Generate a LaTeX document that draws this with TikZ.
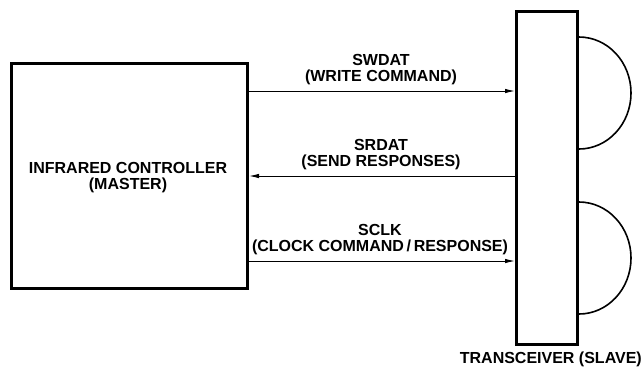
\documentclass[tikz,border=0pt]{standalone}
\usepackage{fontspec}
\setmainfont{Liberation Sans Bold}
\newcommand{\lblfont}{\fontsize{16}{16}\selectfont}
\usetikzlibrary{arrows.meta}
\begin{document}
\begin{tikzpicture}[x=1pt,y=-1pt,
  blk/.style={draw,line width=3pt},
  sig/.style={line width=1pt,-{Latex[length=10pt,width=4.5pt]}},
  lbl/.style={font=\lblfont,align=center,inner sep=0pt},
  dome/.style={line width=1.6pt}]
\useasboundingbox (0,0) rectangle (644,368);
\node[blk,minimum width=236pt,minimum height=225pt,anchor=north west,inner sep=0pt] (ctrl) at (10,62) {};
\node[lbl,anchor=base] (ct) at (128,189) {INFRARED CONTROLLER\\(MASTER)};
\node[blk,minimum width=61pt,minimum height=333pt,anchor=north west,inner sep=0pt] (xcvr) at (515,10) {};
\node[lbl,anchor=base east] (xl) at (642,363) {TRANSCEIVER (SLAVE)};
\coordinate (a1) at (ctrl.east |- 0,91);
\coordinate (b1) at (xcvr.west |- 0,91);
\coordinate (a2) at (ctrl.east |- 0,176);
\coordinate (b2) at (xcvr.west |- 0,176);
\coordinate (a3) at (ctrl.east |- 0,261);
\coordinate (b3) at (xcvr.west |- 0,261);
\draw[sig] (a1) -- (b1);
\draw[sig] (b2) -- (a2);
\draw[sig] (a3) -- (b3);
\node[lbl,anchor=base] (l1) at (381,81) {SWDAT\\(WRITE COMMAND)};
\node[lbl,anchor=base] (l2) at (381,166) {SRDAT\\(SEND RESPONSES)};
\node[lbl,anchor=base] (l3) at (380,251) {SCLK\\(CLOCK COMMAND\,/\,RESPONSE)};
\coordinate (d1) at (xcvr.east |- 0,37);
\coordinate (d2) at (xcvr.east |- 0,202);
\draw[dome] (d1) arc[start angle=-90,end angle=90,x radius=52,y radius=56];
\draw[dome] (d2) arc[start angle=-90,end angle=90,x radius=52,y radius=56];
\end{tikzpicture}
\end{document}
